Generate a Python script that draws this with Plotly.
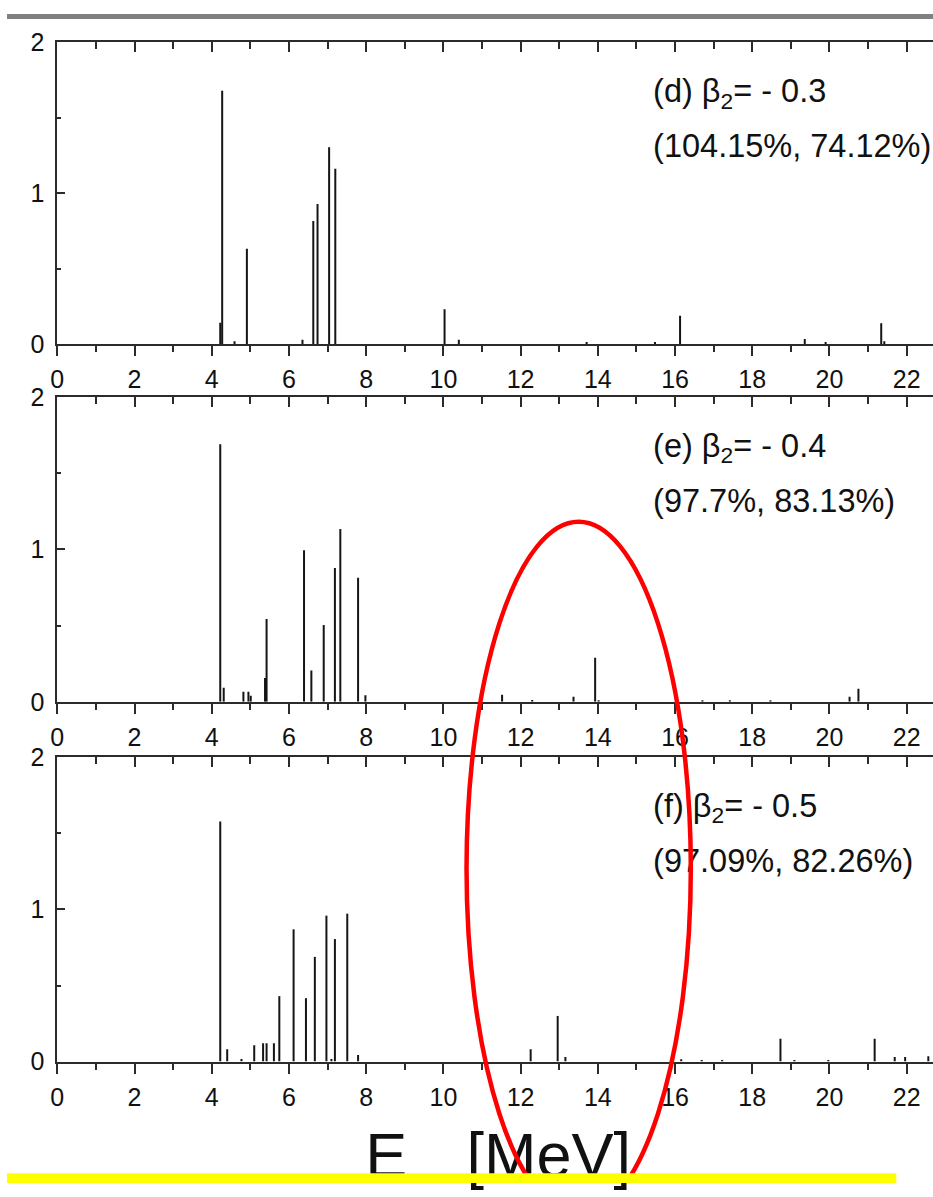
import plotly.graph_objects as go

W, H = 933, 1197

# ---------------- data ----------------
E_d = [4.22, 4.27, 4.59, 4.91, 6.35, 6.63, 6.74, 7.04, 7.20, 10.03, 10.40,
       13.71, 15.48, 16.13, 19.36, 19.90, 21.34, 21.42]
B_d = [0.144, 1.68, 0.02, 0.634, 0.03, 0.817, 0.93, 1.305, 1.163, 0.232, 0.03,
       0.015, 0.015, 0.19, 0.035, 0.015, 0.14, 0.02]

E_e = [4.22, 4.31, 4.82, 4.95, 5.01, 5.38, 5.42, 6.39, 6.58, 6.90, 7.19, 7.33,
       7.79, 7.98, 11.52, 12.30, 13.37, 13.93, 14.02, 16.71, 17.42, 18.47,
       20.52, 20.75]
B_e = [1.69, 0.092, 0.066, 0.066, 0.04, 0.157, 0.544, 0.995, 0.206, 0.505,
       0.879, 1.135, 0.815, 0.043, 0.047, 0.012, 0.034, 0.29, 0.01, 0.01,
       0.01, 0.01, 0.034, 0.086]

E_f = [4.22, 4.40, 4.77, 5.10, 5.33, 5.42, 5.61, 5.75, 6.12, 6.44, 6.67, 6.97,
       7.10, 7.19, 7.51, 7.79, 12.26, 12.96, 13.16, 16.16, 16.69, 17.22,
       18.73, 19.09, 19.97, 21.17, 21.69, 21.96, 22.56]
B_f = [1.577, 0.082, 0.017, 0.108, 0.12, 0.12, 0.12, 0.43, 0.869, 0.417,
       0.688, 0.959, 0.017, 0.805, 0.972, 0.043, 0.082, 0.30, 0.03, 0.015,
       0.01, 0.01, 0.15, 0.01, 0.01, 0.15, 0.03, 0.03, 0.035]

panel_titles = ["(d) β<sub>2</sub>= - 0.3", "(e) β<sub>2</sub>= - 0.4",
                "(f) β<sub>2</sub>= - 0.5"]
panel_pcts = ["(104.15%, 74.12%)", "(97.7%, 83.13%)", "(97.09%, 82.26%)"]
x_tick_vals = list(range(0, 23, 2))
y_tick_vals = [0, 1, 2]
axis_title_parts = ["E", "[MeV]"]

# ---------------- layout constants (pixels) ----------------
X0_PX = 50.7
PX_PER_MEV = 38.9
XMAX = (W - X0_PX) / PX_PER_MEV
panels_px = [(29.0, 338.3), (392.3, 704.3), (761.0, 1072.7)]
FONT = "Liberation Sans, Arial, sans-serif"
AX = "#2b2b2b"

fig = go.Figure()


def stems(E, B):
    xs, ys = [], []
    for e, b in zip(E, B):
        xs += [e, e, None]
        ys += [0, b, None]
    return xs, ys


series = [(E_d, B_d), (E_e, B_e), (E_f, B_f)]
layout = {}
for i, ((E, B), (top, bot)) in enumerate(zip(series, panels_px), start=1):
    xs, ys = stems(E, B)
    xa = "x" if i == 1 else f"x{i}"
    ya = "y" if i == 1 else f"y{i}"
    fig.add_trace(go.Scatter(x=xs, y=ys, mode="lines", xaxis=xa, yaxis=ya,
                             line=dict(color="#151515", width=2),
                             hoverinfo="skip", showlegend=False))
    # dummy trace for the top (mirror) axis
    fig.add_trace(go.Scatter(x=[None], y=[None], xaxis=f"x{i+3}", yaxis=ya,
                             showlegend=False, hoverinfo="skip"))
    layout[f"xaxis{'' if i == 1 else i}"] = dict(
        domain=[X0_PX / W, 1], range=[0, XMAX], anchor=ya,
        showline=True, linewidth=2, linecolor=AX, mirror=False,
        showgrid=False, zeroline=False,
        tickmode="array", tickvals=x_tick_vals,
        ticks="outside", ticklen=10, tickwidth=2, tickcolor=AX,
        minor=dict(dtick=1, tick0=0, ticks="outside", ticklen=6,
                   tickwidth=2, tickcolor=AX, showgrid=False),
        tickfont=dict(family=FONT, size=25, color="#111"),
        ticklabelstandoff=2, fixedrange=True)
    layout[f"xaxis{i+3}"] = dict(
        overlaying=xa, anchor=ya, side="top", range=[0, XMAX],
        showline=True, linewidth=2, linecolor=AX,
        showgrid=False, zeroline=False, showticklabels=False,
        tick0=0, dtick=2, ticks="inside", ticklen=10, tickwidth=2,
        tickcolor=AX,
        minor=dict(dtick=1, tick0=0, ticks="inside", ticklen=7,
                   tickwidth=2, tickcolor=AX, showgrid=False),
        fixedrange=True)
    layout[f"yaxis{'' if i == 1 else i}"] = dict(
        domain=[1 - bot / H, 1 - top / H], range=[0, 2], anchor=xa,
        showline=True, linewidth=2, linecolor=AX, mirror=False,
        showgrid=False, zeroline=False,
        tickmode="array", tickvals=y_tick_vals,
        ticks="inside", ticklen=8, tickwidth=2, tickcolor=AX,
        minor=dict(dtick=0.5, tick0=0, ticks="inside", ticklen=4,
                   tickwidth=2, tickcolor=AX, showgrid=False),
        tickfont=dict(family=FONT, size=25, color="#111"),
        ticklabelstandoff=6, fixedrange=True)

# ---------------- text on a full-page overlay (page pixels) ----------------
TXT_FS = 32.5
tx, ty, tt = [], [], []
for (top, bot), t1, t2 in zip(panels_px, panel_titles, panel_pcts):
    tx += [651, 651]
    ty += [top + 52.5, top + 109.5]
    tt += [t1, t2]
fig.add_trace(go.Scatter(x=tx, y=ty, text=tt, mode="text",
                         textposition="middle right", cliponaxis=False,
                         textfont=dict(family=FONT, size=TXT_FS, color="#111"),
                         xaxis="x7", yaxis="y7", hoverinfo="skip",
                         showlegend=False))
fig.add_trace(go.Scatter(x=[361, 463], y=[1175, 1175], text=axis_title_parts,
                         mode="text", textposition="middle right",
                         cliponaxis=False,
                         textfont=dict(family=FONT, size=63, color="#111"),
                         xaxis="x7", yaxis="y7", hoverinfo="skip",
                         showlegend=False))
layout["xaxis7"] = dict(domain=[0, 1], range=[0, W], visible=False,
                        anchor="y7", fixedrange=True)
layout["yaxis7"] = dict(domain=[0, 1], range=[H, 0], visible=False,
                        anchor="x7", fixedrange=True)

shapes = [
    dict(type="circle", xref="x7", yref="y7", x0=463, x1=689, y0=520, y1=1230,
         line=dict(color="#ff0000", width=4.5), layer="above"),
    dict(type="rect", xref="x7", yref="y7", x0=0, x1=896, y0=1187, y1=1205,
         fillcolor="#ffff00", line=dict(width=0), layer="above"),
    dict(type="rect", xref="x7", yref="y7", x0=0, x1=W, y0=-5, y1=5,
         fillcolor="#808080", line=dict(width=0), layer="above"),
]

fig.update_layout(width=W, height=H, margin=dict(l=0, r=0, t=0, b=0),
                  paper_bgcolor="white", plot_bgcolor="rgba(0,0,0,0)",
                  showlegend=False, shapes=shapes, **layout)

fig.write_html("out.html")
